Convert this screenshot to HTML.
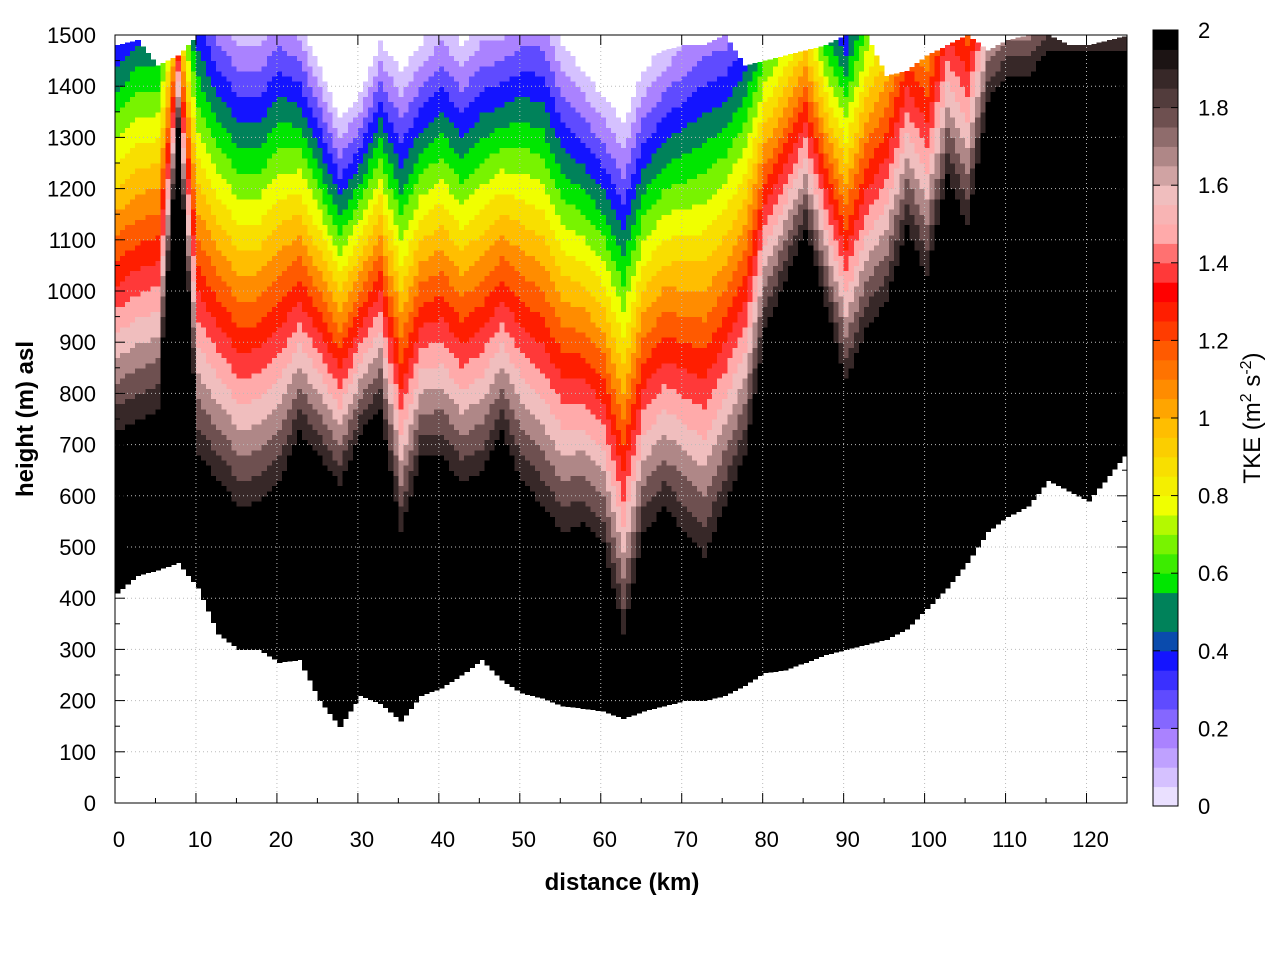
<!DOCTYPE html>
<html><head><meta charset="utf-8"><style>
body{margin:0;background:#fff;font-family:"Liberation Sans",sans-serif}
</style></head><body>
<svg id="chart" width="1280" height="960" xmlns="http://www.w3.org/2000/svg" font-family="Liberation Sans, sans-serif">
<g id="cells" shape-rendering="crispEdges"></g>
<g id="grid"></g>
<rect x="115" y="35" width="1012" height="768" fill="none" stroke="#000" stroke-width="1"/>
<g id="axes"></g>
<g id="cbar"></g>
<text x="622" y="890" font-size="24" font-weight="bold" text-anchor="middle">distance (km)</text>
<text transform="translate(33,419) rotate(-90)" font-size="24" font-weight="bold" text-anchor="middle">height (m) asl</text>
<text transform="translate(1260,418) rotate(-90)" font-size="24" text-anchor="middle">TKE (m<tspan dy="-9" font-size="16">2</tspan><tspan dy="9"> s</tspan><tspan dy="-9" font-size="16">-2</tspan><tspan dy="9">)</tspan></text>
</svg>
<script>
const distances=[0,2.5,5,7.5,10,12.5,15,17.5,20,22.5,25,27.5,30,32.5,35,37.5,40,42.5,45,47.5,50,52.5,55,57.5,60,62.5,65,67.5,70,72.5,75,77.5,80,82.5,85,87.5,90,92.5,95,97.5,100,102.5,105,107.5,110,112.5,115,117.5,120,122.5,125];
const groundHeight=[410,445,455,470,420,330,300,300,275,280,200,150,210,195,160,210,225,250,280,240,215,205,190,185,180,165,180,190,200,200,210,230,255,260,275,290,300,310,320,340,380,420,470,530,560,580,630,610,590,640,690];
const blackTop=[700,720,740,1300,650,600,550,560,600,700,650,600,700,750,500,650,650,600,620,700,600,550,500,520,480,300,500,550,500,450,550,650,900,1000,1100,950,800,900,950,1100,1000,1200,1100,1350,1400,1400,1450,1450,1450,1450,1450];
const whiteTop=[1650,1700,1700,1750,1700,1600,1550,1550,1600,1550,1450,1350,1400,1500,1450,1500,1550,1500,1550,1550,1600,1600,1500,1450,1400,1350,1450,1500,1550,1600,1600,1650,1700,1750,1800,1700,1650,1800,1900,2000,2000,2100,2100,2100,2100,2100,2100,2100,2100,2100,2100];
const dataTop=[1480,1490,1440,1460,1500,1500,1500,1500,1500,1500,1500,1500,1500,1500,1500,1500,1500,1500,1500,1500,1500,1500,1500,1460,1440,1430,1450,1470,1480,1480,1500,1440,1450,1460,1470,1480,1500,1500,1420,1430,1460,1480,1500,1470,1490,1500,1500,1480,1480,1490,1500];
const xTicks=[0,10,20,30,40,50,60,70,80,90,100,110,120];
const yTicks=[0,100,200,300,400,500,600,700,800,900,1000,1100,1200,1300,1400,1500];
const cbTicks=[0,0.2,0.4,0.6,0.8,1,1.2,1.4,1.6,1.8,2];
const NS='http://www.w3.org/2000/svg';
const X=d=>115+d*1012/125, Y=h=>803-h*768/1500;
const stops=[[0,[255,255,255]],[0.2,[170,130,255]],[0.4,[20,20,255]],[0.5,[0,130,90]],[0.6,[0,230,0]],[0.8,[240,255,0]],[1.0,[255,190,0]],[1.2,[255,90,0]],[1.35,[255,0,0]],[1.5,[255,170,170]],[1.6,[240,190,190]],[1.8,[110,80,80]],[2.0,[0,0,0]]];
function cmap(v){for(let i=1;i<stops.length;i++){if(v<=stops[i][0]){const a=stops[i-1],b=stops[i],t=(v-a[0])/(b[0]-a[0]);return 'rgb('+a[1].map((c,k)=>Math.round(c+(b[1][k]-c)*t)).join(',')+')';}}return 'rgb(0,0,0)';}
function mk(tag,attrs,parent){const e=document.createElementNS(NS,tag);for(const k in attrs)e.setAttribute(k,attrs[k]);parent.appendChild(e);return e;}
const cells=document.getElementById('cells');
const dh=10,SUB=4;
function lerp(arr,i,f){return arr[i]+(arr[Math.min(i+1,arr.length-1)]-arr[i])*f;}
for(let i=0;i<distances.length-1;i++){
 for(let s=0;s<SUB;s++){
  const f=s/SUB,d=distances[i]+(distances[i+1]-distances[i])*f;
  const g=lerp(groundHeight,i,f),bt=lerp(blackTop,i,f),wt=lerp(whiteTop,i,f),top=lerp(dataTop,i,f);
  const x0=X(d),x1=X(d+(distances[i+1]-distances[i])/SUB);
  for(let h=0;h<1500;h+=dh){
   if(h+dh<=g||h>=top)continue;
   let t=(wt-h)/(wt-bt);t=Math.max(0,Math.min(1,t));
   const v=Math.round(t*20)/10;
   const lo=Math.max(h,g),hi=Math.min(h+dh,top);
   const r=mk('rect',{x:x0,y:Y(hi),width:x1-x0+0.6,height:Y(lo)-Y(hi)+0.6,fill:cmap(v)},cells);
   
   
  }
 }
}
const grid=document.getElementById('grid'),axes=document.getElementById('axes');
xTicks.forEach(d=>{
 if(d>0)mk('line',{x1:X(d),x2:X(d),y1:35,y2:803,stroke:'#bbb','stroke-dasharray':'1,3'},grid);
 mk('line',{x1:X(d),x2:X(d),y1:803,y2:793,stroke:'#000'},axes);
 mk('line',{x1:X(d),x2:X(d),y1:35,y2:45,stroke:'#000'},axes);
 mk('line',{x1:X(d+5),x2:X(d+5),y1:803,y2:798,stroke:'#000'},axes);
 const t=mk('text',{x:X(d)+4,y:847,'font-size':22,'text-anchor':'middle'},axes);t.textContent=d;
 
 
});
yTicks.forEach(h=>{
 if(h>0&&h<1500)mk('line',{x1:115,x2:1127,y1:Y(h),y2:Y(h),stroke:'#bbb','stroke-dasharray':'1,3'},grid);
 mk('line',{x1:115,x2:125,y1:Y(h),y2:Y(h),stroke:'#000'},axes);
 mk('line',{x1:1117,x2:1127,y1:Y(h),y2:Y(h),stroke:'#000'},axes);
 if(h<1500){mk('line',{x1:115,x2:120,y1:Y(h+50),y2:Y(h+50),stroke:'#000'},axes);mk('line',{x1:1122,x2:1127,y1:Y(h+50),y2:Y(h+50),stroke:'#000'},axes);}
 const t=mk('text',{x:96,y:Y(h)+8,'font-size':22,'text-anchor':'end'},axes);t.textContent=h;
 
 
});
const cb=document.getElementById('cbar');
const cy=v=>806-v*388;
for(let v=0;v<2;v+=0.05){mk('rect',{x:1153,y:cy(v+0.05),width:25,height:19.9,fill:cmap(Math.round((v+0.025)*20)/20)},cb);}
mk('rect',{x:1153,y:30,width:25,height:776,fill:'none',stroke:'#000'},cb);
cbTicks.forEach(v=>{
 mk('line',{x1:1153,x2:1160,y1:cy(v),y2:cy(v),stroke:'#000'},cb);
 mk('line',{x1:1171,x2:1178,y1:cy(v),y2:cy(v),stroke:'#000'},cb);
 const t=mk('text',{x:1198,y:cy(v)+8,'font-size':22},cb);t.textContent=v;
 
 
});
</script>
</body></html>
